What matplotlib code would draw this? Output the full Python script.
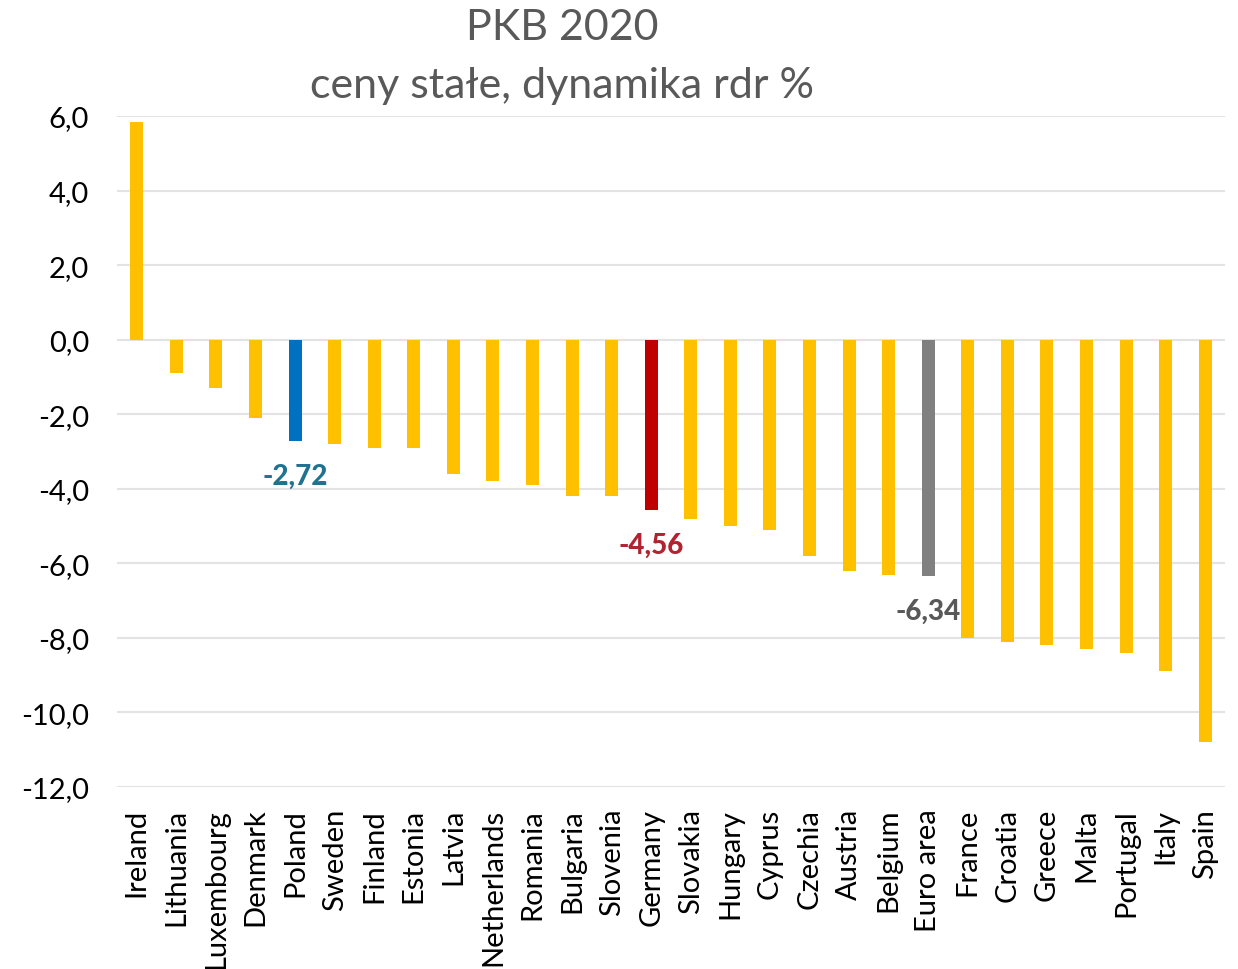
import numpy as np
import matplotlib.pyplot as plt

countries = ['Ireland', 'Lithuania', 'Luxembourg', 'Denmark', 'Poland', 'Sweden',
             'Finland', 'Estonia', 'Latvia', 'Netherlands', 'Romania', 'Bulgaria',
             'Slovenia', 'Germany', 'Slovakia', 'Hungary', 'Cyprus', 'Czechia',
             'Austria', 'Belgium', 'Euro area', 'France', 'Croatia', 'Greece',
             'Malta', 'Portugal', 'Italy', 'Spain']
gdp = [5.85, -0.9, -1.3, -2.1, -2.72, -2.8, -2.9, -2.9, -3.6, -3.8, -3.9, -4.2,
       -4.2, -4.56, -4.8, -5.0, -5.1, -5.8, -6.2, -6.3, -6.34, -8.0, -8.1, -8.2,
       -8.3, -8.4, -8.9, -10.8]

# highlighted bars: country -> (bar colour, label colour)
highlight = {'Poland': ('#0070C0', '#1F7391'),
             'Germany': ('#C00000', '#B22230'),
             'Euro area': ('#808080', '#595959')}

plt.rcParams['font.family'] = ['Lato', 'DejaVu Sans']

fig = plt.figure(figsize=(12.38, 9.70), dpi=100)
ax = fig.add_axes([117/1238, 1 - 788/970, (1225-117)/1238, (788-117)/970])

x = np.arange(len(countries))
colors = [highlight[c][0] if c in highlight else '#FFC000' for c in countries]
ax.bar(x, gdp, width=0.33, color=colors, zorder=3)

for i, c in enumerate(countries):
    if c in highlight:
        ax.annotate(f'{gdp[i]:.2f}'.replace('.', ','), (x[i], gdp[i]),
                    xytext=(0, -16), textcoords='offset points',
                    ha='center', va='top', fontsize=20, fontweight='black',
                    color=highlight[c][1])

ax.set_ylim(-12, 6)
ax.set_xlim(-0.5, len(countries) - 0.5)
ax.set_yticks(np.arange(-12, 7, 2))
ax.set_yticklabels([f'{v:.1f}'.replace('.', ',') for v in np.arange(-12, 7, 2)])
ax.set_xticks(x)
ax.set_xticklabels(countries, rotation=90)
ax.tick_params(axis='both', length=0, labelsize=21, colors='black')
ax.tick_params(axis='x', pad=15)
ax.tick_params(axis='y', pad=20)
ax.grid(axis='y', color='#E3E3E3', linewidth=1.5, zorder=0)
for s in ax.spines.values():
    s.set_visible(False)

fig.text(562/1238, 1 - 57/970, 'PKB 2020\nceny stałe, dynamika rdr %',
         ha='center', va='center', fontsize=31, color='#595959', linespacing=1.65)

fig.savefig('out.png', dpi=100)
